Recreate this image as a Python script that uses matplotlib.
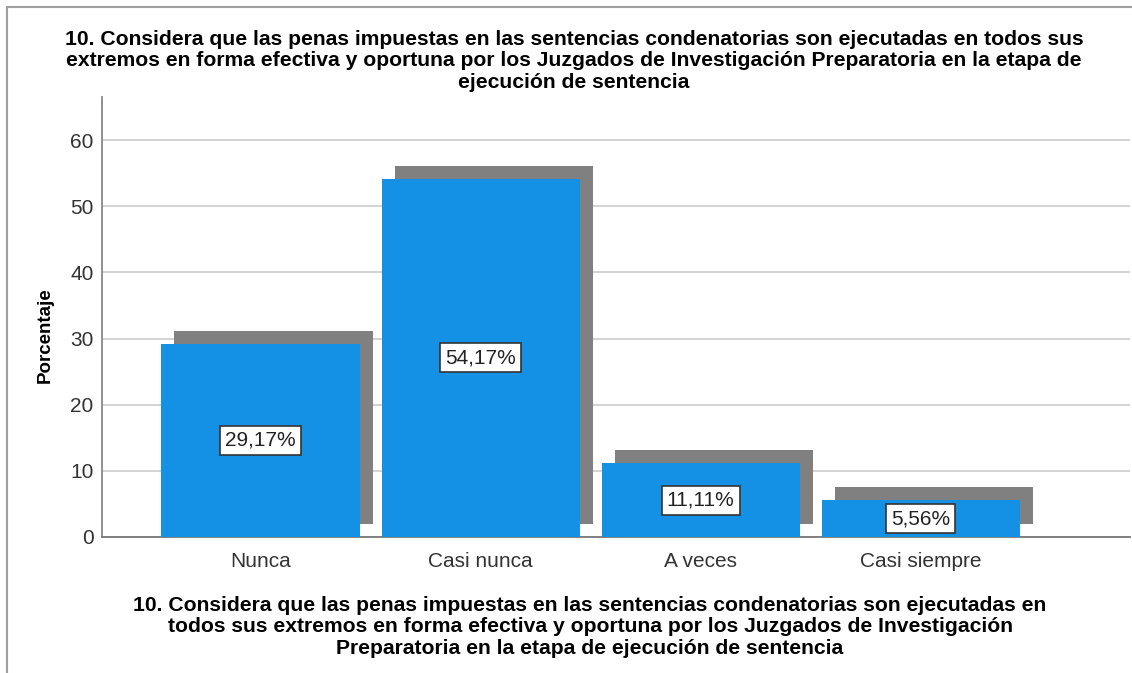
import matplotlib
matplotlib.use('Agg')
import matplotlib.pyplot as plt
import matplotlib.transforms as mtransforms
from matplotlib.patches import Rectangle

plt.rcParams['font.family'] = ['Liberation Sans', 'DejaVu Sans']

categories = ['Nunca', 'Casi nunca', 'A veces', 'Casi siempre']
percentages = [29.17, 54.17, 11.11, 5.56]
value_labels = ['29,17%', '54,17%', '11,11%', '5,56%']
y_ticks = [0, 10, 20, 30, 40, 50, 60]

title_text = ('10. Considera que las penas impuestas en las sentencias condenatorias son ejecutadas en todos sus\n'
              'extremos en forma efectiva y oportuna por los Juzgados de Investigación Preparatoria en la etapa de\n'
              'ejecución de sentencia')
xlabel_text = ('10. Considera que las penas impuestas en las sentencias condenatorias son ejecutadas en\n'
               'todos sus extremos en forma efectiva y oportuna por los Juzgados de Investigación\n'
               'Preparatoria en la etapa de ejecución de sentencia')

W, H = 1132, 673
fig = plt.figure(figsize=(W / 100, H / 100), dpi=100)
ax = fig.add_axes([102 / W, 1 - 537 / H, (1130 - 102) / W, (537 - 97) / H])

x = list(range(len(categories)))

# drop shadow: same bars, shifted up and right by a fixed number of pixels
shadow = mtransforms.offset_copy(ax.transData, fig=fig, x=13, y=13, units='dots')
ax.bar(x, percentages, width=0.9, color='#808080', transform=shadow, zorder=2)
ax.bar(x, percentages, width=0.9, color='#1490e4', zorder=3)

for xi, val, lab in zip(x, percentages, value_labels):
    ax.text(xi, val / 2, lab, ha='center', va='center', fontsize=15, color='#222222', zorder=5,
            bbox=dict(boxstyle='square,pad=0.24', fc='white', ec='#333333', lw=1.2))

ax.set_xlim(-0.72, 3.95)
ax.set_ylim(0, 66.5)
ax.set_yticks(y_ticks)
ax.set_xticks(x)
ax.set_xticklabels(categories)
ax.tick_params(axis='both', length=0, labelsize=15, labelcolor='#333333')
ax.tick_params(axis='x', pad=11)
ax.tick_params(axis='y', pad=6)
ax.yaxis.grid(True, color='#d0d0d0', lw=1.3, zorder=0)
ax.set_axisbelow(True)

for side in ['top', 'right']:
    ax.spines[side].set_visible(False)
ax.spines['left'].set_color('#888888')
ax.spines['bottom'].set_color('#777777')
ax.spines['left'].set_linewidth(1.3)
ax.spines['bottom'].set_linewidth(1.3)

ax.set_ylabel('Porcentaje', fontsize=13.5, fontweight='bold', labelpad=12)
ax.yaxis.label.set_y(0.459)

fig.text(574 / W, 1 - 61 / H, title_text, ha='center', va='center', fontsize=15.2,
         fontweight='bold', linespacing=1.18)
fig.text(590 / W, 1 - 627 / H, xlabel_text, ha='center', va='center', fontsize=15.2,
         fontweight='bold', linespacing=1.18)

# outer frame
fig.patches.append(Rectangle((7 / W, -0.1), 1.2, 1 - 7 / H + 0.1, transform=fig.transFigure,
                             fill=False, ec='#a0a0a0', lw=1.5))

fig.savefig('out.png', dpi=100)
